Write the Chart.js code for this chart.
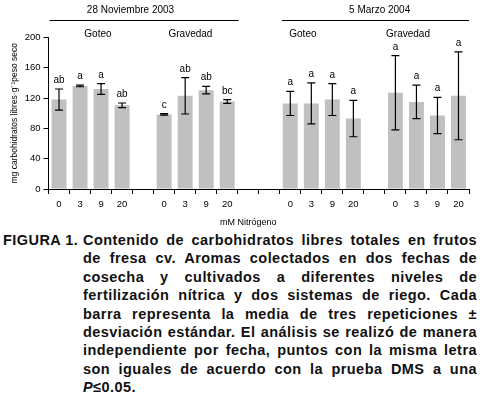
<!DOCTYPE html>
<html>
<head>
<meta charset="utf-8">
<script src="https://cdn.jsdelivr.net/npm/chart.js@4/dist/chart.umd.min.js"></script>
<style>
    body { margin: 0; background: #fff; width: 483px; height: 394px; overflow: hidden; position: relative; }
    #wrap { position: absolute; left: 0; top: 0; width: 483px; height: 230px; }
    .cap { position: absolute; font: bold 14.5px "Liberation Sans", Arial, sans-serif; color: #111;
           letter-spacing: 0.45px; line-height: 18.4px; text-align: justify; text-align-last: justify; white-space: nowrap; }
    .cap.last, .cap.label { text-align-last: left; }
</style>
</head>
<body>
<div id="wrap"><canvas id="sugarChart"></canvas></div>
<div id="caption"></div>
<script>
// categories along the x axis (blank slots separate the groups)
const categories = ["0", "3", "9", "20", "", "0", "3", "9", "20", "", "", "0", "3", "9", "20", "", "0", "3", "9", "20"]
// mean free carbohydrates (mg/g)
const means = [118, 136, 132, 110.5, null, 98.5, 123, 130.5, 115.5, null, null, 113, 113, 118, 93, null, 127, 115, 97, 123]
// standard deviation
const deviations = [14, 1, 7, 3, null, 1, 24, 5, 2.5, null, null, 16, 27, 21, 24, null, 49, 22, 24, 58]
// DMS letters
const letters = ["ab", "a", "a", "ab", "", "c", "ab", "ab", "bc", "", "", "a", "a", "a", "a", "", "a", "a", "a", "a"]
const dates = ["28 Noviembre 2003", "5 Marzo 2004"]
const systems = ["Goteo", "Gravedad", "Goteo", "Gravedad"]
const yTicks = [0, 40, 80, 120, 160, 200]

const captionLabel = "FIGURA 1."
const captionLines = [
    "Contenido de carbohidratos libres totales en frutos",
    "de fresa cv. Aromas colectados en dos fechas de",
    "cosecha y cultivados a diferentes niveles de",
    "fertilización nítrica y dos sistemas de riego. Cada",
    "barra representa la media de tres repeticiones ±",
    "desviación estándar. El análisis se realizó de manera",
    "independiente por fecha, puntos con la misma letra",
    "son iguales de acuerdo con la prueba DMS a una",
    "<i>P</i>≤0.05."
]

const caption = document.getElementById("caption")
const label = document.createElement("div")
label.className = "cap label"
label.textContent = captionLabel
label.style.top = "231px"
label.style.left = "3px"
caption.appendChild(label)

captionLines.forEach((line, i) => {
    const div = document.createElement("div")
    div.className = "cap" + (i === captionLines.length - 1 ? " last" : "")
    div.innerHTML = line
    div.style.top = (231 + i * 18.4) + "px"
    div.style.left = "83px"
    div.style.width = "394px"
    caption.appendChild(div)
})

const FONT = "'Liberation Sans', Arial, sans-serif"
Chart.defaults.font.family = FONT
Chart.defaults.color = "#000"

// pixel of a (possibly fractional) category index
function catPx(scale, i) {
    const p0 = scale.getPixelForValue(0)
    const p1 = scale.getPixelForValue(1)
    return p0 + i * (p1 - p0)
}

const annotations = {
    id: "annotations",
    afterDatasetsDraw(chart) {
        const ctx = chart.ctx
        const xs = chart.scales.x
        const ys = chart.scales.y
        ctx.save()
        ctx.strokeStyle = "#000"
        ctx.fillStyle = "#000"
        ctx.lineWidth = 1.2

        // error bars + letters
        means.forEach((m, i) => {
            if (m === null) return
            const x = xs.getPixelForValue(i)
            const yTop = ys.getPixelForValue(m + deviations[i])
            const yBot = ys.getPixelForValue(m - deviations[i])
            ctx.beginPath()
            ctx.moveTo(x, yTop); ctx.lineTo(x, yBot)
            ctx.moveTo(x - 4, yTop); ctx.lineTo(x + 4, yTop)
            ctx.moveTo(x - 4, yBot); ctx.lineTo(x + 4, yBot)
            ctx.stroke()

            ctx.font = "10px " + FONT
            ctx.textAlign = "center"
            ctx.textBaseline = "alphabetic"
            ctx.fillText(letters[i], x, yTop - 6)
        })

        // date headers with rule
        ctx.font = "10px " + FONT
        ctx.textAlign = "center"
        const dateSpans = [[-0.45, 8.55, 3.4], [10.6, 19.5, 15.25]]
        dateSpans.forEach((s, k) => {
            ctx.fillText(dates[k], catPx(xs, s[2]), 13)
            ctx.lineWidth = 1
            ctx.beginPath()
            ctx.moveTo(catPx(xs, s[0]), 20.5)
            ctx.lineTo(catPx(xs, s[1]), 20.5)
            ctx.stroke()
        })

        // irrigation systems
        const sysPos = [1.85, 6.25, 11.6, 16.6]
        systems.forEach((name, k) => {
            ctx.fillText(name, catPx(xs, sysPos[k]), 37)
        })

        // x axis title
        ctx.font = "9px " + FONT
        ctx.fillText("mM Nitrógeno", catPx(xs, 9), 225)
        ctx.restore()
    }
}

const ctx = document.getElementById("sugarChart")

new Chart(ctx, {
    type: "bar",
    data: {
        labels: categories,
        datasets: [{
            data: means,
            backgroundColor: "#c0c0c0",
            borderWidth: 0,
            barPercentage: 0.71,
            categoryPercentage: 1
        }]
    },
    options: {
        responsive: true,
        maintainAspectRatio: false,
        animation: false,
        events: [],
        layout: { padding: { left: 0, right: 14, top: 37.5, bottom: 0 } },
        plugins: {
            legend: { display: false },
            tooltip: { enabled: false }
        },
        scales: {
            x: {
                offset: true,
                grid: { display: true, drawOnChartArea: false, offset: true, tickLength: 5, color: "#000" },
                border: { color: "#000", width: 1 },
                ticks: { autoSkip: false, maxRotation: 0, padding: 5, font: { size: 9.5 }, color: "#000" },
                afterFit(scale) { scale.height = 41 }
            },
            y: {
                min: 0,
                max: 200,
                afterBuildTicks(scale) { scale.ticks = yTicks.map(v => ({ value: v })) },
                grid: { display: true, drawOnChartArea: false, tickLength: 5, color: "#000" },
                border: { color: "#000", width: 1 },
                ticks: { padding: 3, font: { size: 9.5 }, color: "#000" },
                title: {
                    display: true,
                    text: "mg carbohidratos libres·g⁻¹peso seco",
                    font: { size: 8.5 },
                    padding: { top: 10, bottom: 0 },
                    color: "#000"
                },
                afterFit(scale) { scale.width = 48.5 }
            }
        }
    },
    plugins: [annotations]
})
</script>
</body>
</html>
